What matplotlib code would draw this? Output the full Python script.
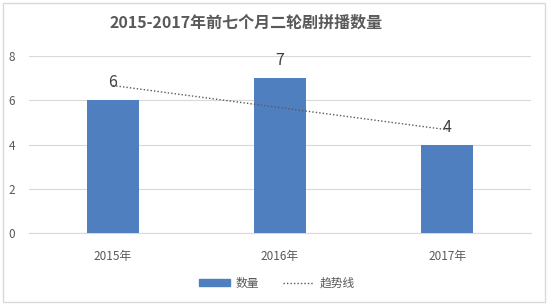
import matplotlib
matplotlib.use("Agg")
import matplotlib.pyplot as plt
import numpy as np
from matplotlib.patches import Rectangle
from matplotlib.lines import Line2D

plt.rcParams['font.family'] = ['Noto Sans CJK SC', 'DejaVu Sans']

categories = ["2015年", "2016年", "2017年"]
values = [6, 7, 4]
yticks = [0, 2, 4, 6, 8]
title = "2015-2017年前七个月二轮剧拼播数量"
legend_labels = ["数量", "趋势线"]

W, H = 548, 305
fig = plt.figure(figsize=(W / 100, H / 100), dpi=100)
fig.patch.set_facecolor('white')

# outer chart border
fig.add_artist(Rectangle((3 / W, 3 / H), (W - 6) / W, (H - 6) / H, transform=fig.transFigure,
                         fill=False, edgecolor='#d9d9d9', lw=1))

ax = fig.add_axes([29 / W, 1 - 233 / H, 502 / W, 177 / H])
x = np.arange(len(categories))
bar_color = '#4f7fbe'
ax.bar(x, values, width=0.31, color=bar_color, zorder=3)

# linear trendline
coef = np.polyfit(x, values, 1)
ax.plot(x, np.polyval(coef, x), linestyle=(0, (1, 1.5)), color='#595959', lw=1.0, zorder=4)

for xi, v in zip(x, values):
    ax.text(xi, v + 0.4, str(v), ha='center', va='bottom', fontsize=11.5, color='#404040', zorder=5)

ax.set_xlim(-0.5, 2.5)
ax.set_ylim(0, 8)
ax.set_yticks(yticks)
ax.set_xticks(x)
ax.set_xticklabels(categories)
ax.grid(axis='y', color='#d9d9d9', lw=0.8, zorder=0)
for s in ['top', 'right', 'left']:
    ax.spines[s].set_visible(False)
ax.spines['bottom'].set_color('#d9d9d9')
ax.tick_params(axis='both', length=0, colors='#595959', labelsize=8.5)
ax.tick_params(axis='y', pad=10)
ax.tick_params(axis='x', pad=12)

fig.text(246 / W, 1 - 23 / H, title, ha='center', va='center', fontsize=11.5,
         fontweight='bold', color='#595959')

handles = [Rectangle((0, 0), 1, 1, color=bar_color),
           Line2D([0], [0], linestyle=(0, (1, 1.5)), color='#595959', lw=1.0)]
fig.legend(handles, legend_labels, loc='center', bbox_to_anchor=(277 / W, 1 - 283 / H),
           ncol=2, frameon=False, fontsize=8.5, labelcolor='#595959',
           handlelength=2.6, handleheight=0.5, columnspacing=2.0, handletextpad=0.5)

fig.savefig('out.png', dpi=100, facecolor='white')
